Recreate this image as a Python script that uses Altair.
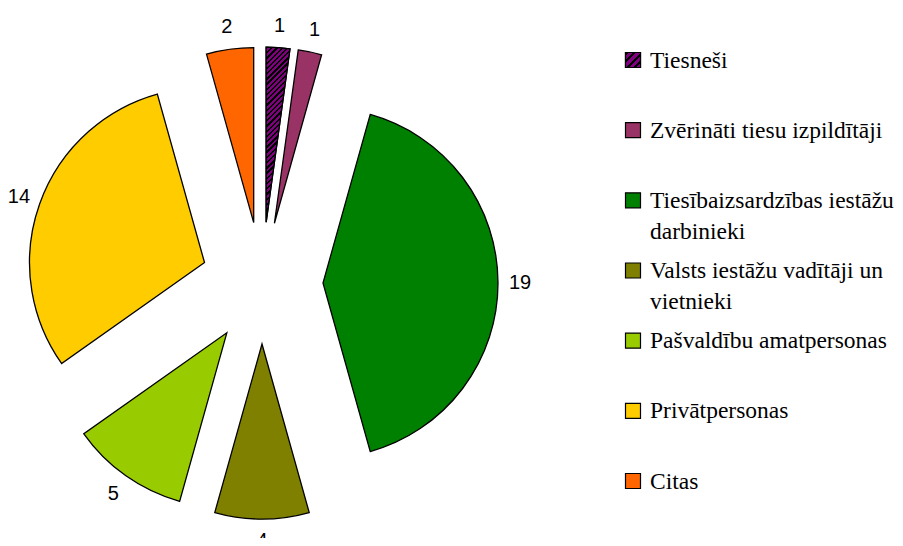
import math
import altair as alt
import pandas as pd

categories = [
    "Tiesneši",
    "Zvērināti tiesu izpildītāji",
    "Tiesībaizsardzības iestāžu darbinieki",
    "Valsts iestāžu vadītāji un vietnieki",
    "Pašvaldību amatpersonas",
    "Privātpersonas",
    "Citas",
]
legend_labels = [
    "Tiesneši",
    "Zvērināti tiesu izpildītāji",
    "Tiesībaizsardzības iestāžu\ndarbinieki",
    "Valsts iestāžu vadītāji un\nvietnieki",
    "Pašvaldību amatpersonas",
    "Privātpersonas",
    "Citas",
]
values = [1, 1, 19, 4, 5, 14, 2]
colors = ["#800080", "#993366", "#008000", "#808000", "#99CC00", "#FFCC00", "#FF6600"]

total = sum(values)

# layout / style constants
CX, CY = 254, 275          # pie centre in plot coordinates
R = 175                    # pie radius
EXPLODE = 61               # explode distance
LABEL_R = 258              # label distance from centre
HATCH = "#800080"

df = pd.DataFrame({
    "category": categories,
    "label": legend_labels,
    "value": values,
    "idx": list(range(len(categories))),
})

# hatch gradient for the thin first slice (bbox-aware so stripes are at 45 deg)
slice_ang = 2 * math.pi * values[0] / total
bw, bh = R * math.sin(slice_ang), R
c = (bw + bh) / (bw * bw + bh * bh)
def stripes(n, frac=0.45):
    st = []
    for k in range(n):
        a = k / n
        b = (k + frac) / n
        e = (k + 1) / n
        st += [alt.GradientStop(color="#000000", offset=a),
               alt.GradientStop(color="#000000", offset=b),
               alt.GradientStop(color=HATCH, offset=b),
               alt.GradientStop(color=HATCH, offset=e)]
    return st

slice_grad = alt.LinearGradient(gradient="linear", stops=stripes(38),
                                x1=0, y1=0, x2=c * bw, y2=c * bh)
swatch_grad = alt.LinearGradient(gradient="linear", stops=stripes(4),
                                 x1=0, y1=0, x2=1, y2=1)

base = alt.Chart(df).transform_window(
    cum="sum(value)", sort=[alt.SortField("idx")], frame=[None, 0]
).transform_calculate(
    t0="datum.cum - datum.value",
    mid=f"(datum.cum - datum.value/2) / {total} * 2 * PI",
).transform_calculate(
    px=f"{CX} + {EXPLODE} * sin(datum.mid)",
    py=f"{CY} - {EXPLODE} * cos(datum.mid)",
    lx=f"{CX} + {LABEL_R} * sin(datum.mid)",
    ly=f"{CY} - {LABEL_R} * cos(datum.mid)",
)

theta_enc = alt.Theta("t0:Q", stack=False,
                      scale=alt.Scale(domain=[0, total], range=[0, 2 * math.pi]))
color_enc = alt.Color("category:N", scale=alt.Scale(domain=categories, range=colors), legend=None)

arcs = base.mark_arc(radius=R, stroke="black", strokeWidth=1.3).encode(
    x=alt.X("px:Q", scale=None),
    y=alt.Y("py:Q", scale=None),
    theta=theta_enc,
    theta2="cum:Q",
    color=color_enc,
)

hatch = base.transform_filter(alt.datum.idx == 0).mark_arc(
    radius=R, stroke="black", strokeWidth=1.3, fill=slice_grad
).encode(
    x=alt.X("px:Q", scale=None),
    y=alt.Y("py:Q", scale=None),
    theta=theta_enc,
    theta2="cum:Q",
)

labels = base.mark_text(font="Liberation Sans", fontSize=20, color="black",
                        align="center", baseline="middle").encode(
    x=alt.X("lx:Q", scale=None),
    y=alt.Y("ly:Q", scale=None),
    text="value:Q",
)

leg_y = alt.Y("category:N", sort=categories,
              scale=alt.Scale(type="point", domain=categories, range=[52, 473], padding=0),
              axis=None)

leg_sq = alt.Chart(df).mark_square(size=225, stroke="black", strokeWidth=1.2, opacity=1).encode(
    x=alt.value(625),
    y=leg_y,
    color=color_enc,
)
leg_hatch = alt.Chart(df).transform_filter(alt.datum.idx == 0).mark_square(
    size=225, stroke="black", strokeWidth=1.2, opacity=1, fill=swatch_grad
).encode(
    x=alt.value(625),
    y=leg_y,
)
leg_text = alt.Chart(df).mark_text(
    font="Liberation Serif", fontSize=23.5, color="black", align="left",
    baseline="alphabetic", dy=7.5, lineBreak="\n", lineHeight=31
).encode(
    x=alt.value(642),
    y=leg_y,
    text="label:N",
)

chart = alt.layer(arcs, hatch, labels, leg_sq, leg_hatch, leg_text).resolve_scale(
    x="independent", y="independent", color="independent"
).properties(
    width=887, height=530, autosize=alt.AutoSizeParams(type="none"), padding=0,
    background="white"
).configure_view(stroke=None)

chart.save("out.html", embed_options={"renderer": "svg", "actions": False})
